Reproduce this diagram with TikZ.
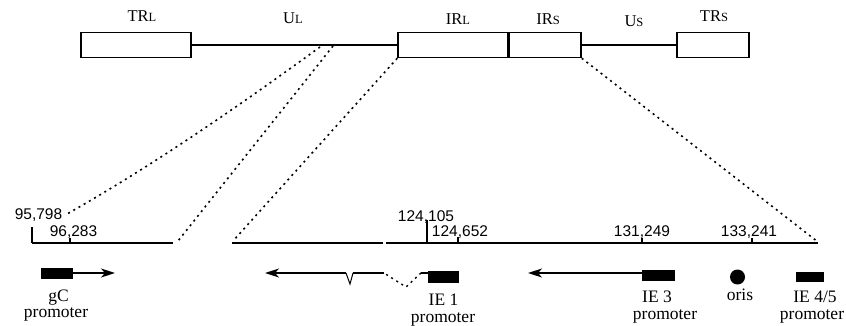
\documentclass[tikz,border=0pt]{standalone}
\usepackage{fontspec}
\setmainfont{Liberation Serif}
\newfontfamily\numfont{Liberation Sans}
\usetikzlibrary{arrows.meta}
\tikzset{
  segbox/.style={draw, line width=1.5pt, inner sep=0pt, minimum height=25pt},
  prom/.style={fill=black, draw=none, inner sep=0pt},
  toplab/.style={anchor=base, inner sep=0pt, font=\fontsize{16.5}{18}\selectfont},
  botlab/.style={anchor=base, inner sep=0pt, font=\fontsize{17.5}{20}\selectfont},
  numlab/.style={anchor=base, inner sep=0pt, font=\numfont\fontsize{15.5}{18}\selectfont},
  zoomline/.style={line width=1.6pt, dash pattern=on 2pt off 4pt},
  scaleline/.style={line width=1.5pt},
  tickmark/.style={line width=1.2pt},
  genearrow/.style={line width=1.5pt, -{Stealth[length=14pt,width=9pt,inset=4pt]}},
}
\newcommand{\sml}[1]{{\fontsize{12.5}{14}\selectfont #1}}
\begin{document}
\begin{tikzpicture}[x=1pt,y=-1pt]
\useasboundingbox (0,0) rectangle (846,326);
% genome map
\node[segbox, minimum width=110pt] (trl) at (136,45) {};
\node[segbox, minimum width=110pt] (irl) at (453,45) {};
\node[segbox, minimum width=73pt] (irs) at (544.5,45) {};
\node[segbox, minimum width=72pt] (trs) at (713,45) {};
\draw[line width=1.5pt] (trl.east) -- (irl.west);
\draw[line width=1.5pt] (irs.east) -- (trs.west);
\draw[line width=3pt] (irl.north east) -- (irl.south east);
% labels
\node[toplab] (ltrl) at (142,22) {TR\sml{L}};
\node[toplab] (lul) at (293,24) {U\sml{L}};
\node[toplab] (lirl) at (458,25) {IR\sml{L}};
\node[toplab] (lirs) at (548,25) {IR\sml{S}};
\node[toplab] (lus) at (634,27) {U\sml{S}};
\node[toplab] (ltrs) at (714,22) {TR\sml{S}};
% zoom coordinates
\coordinate (z1a) at (320,47);
\coordinate (z1b) at (67,214);
\coordinate (z2a) at (333,46);
\coordinate (z2b) at (178,241);
\coordinate (z3b) at (233,241);
\coordinate (z4b) at (818,242);
\draw[zoomline] (z1a) .. controls (228,114) and (145,170) .. (z1b);
\draw[zoomline] (z2a) -- (z2b);
\draw[zoomline] (irl.south west) -- (z3b);
\draw[zoomline] (irs.south east) -- (z4b);
% scale lines
\coordinate (s1a) at (32,243);
\coordinate (s1b) at (173,243);
\coordinate (s2a) at (232,243);
\coordinate (s2b) at (383,243);
\coordinate (s3a) at (386,243);
\coordinate (s3b) at (818,243);
\draw[scaleline] (s1a) -- (s1b);
\draw[scaleline] (s2a) -- (s2b);
\draw[scaleline] (s3a) -- (s3b);
% ticks
\draw[tickmark] (32,227) -- (32,243);
\draw[tickmark] (70,238) -- (70,243);
\draw[line width=1.6pt] (427,220) -- (427,243);
\draw[tickmark] (458,237) -- (458,243);
\draw[tickmark] (642,238) -- (642,243);
\draw[tickmark] (752,238) -- (752,243);
% numbers
\node[numlab] (n1) at (38.5,219) {95,798};
\node[numlab] (n2) at (73.5,236) {96,283};
\node[numlab] (n3) at (426,221) {124,105};
\node[numlab] (n4) at (460,236) {124,652};
\node[numlab] (n5) at (642,236) {131,249};
\node[numlab] (n6) at (749,236) {133,241};
% gC promoter
\node[prom, minimum width=32pt, minimum height=11pt] (gc) at (57,273.5) {};
\coordinate (gcend) at (115,273);
\draw[genearrow] (gc.east |- gcend) -- (gcend);
\node[botlab] (gct) at (58.5,301) {gC};
\node[botlab] (gcp) at (56,317) {promoter};
% IE1 promoter
\node[prom, minimum width=31pt, minimum height=12pt] (ie1) at (443.5,277) {};
\coordinate (i1) at (428,273);
\coordinate (i2) at (421,273);
\coordinate (i3) at (406,287);
\coordinate (i4) at (384,273);
\coordinate (i5) at (353,273);
\coordinate (i6) at (350,284);
\coordinate (i7) at (346,273);
\coordinate (i8) at (265,273);
\draw[line width=1.5pt] (i1) -- (i2);
\draw[zoomline, line width=1.4pt] (i2) -- (i3) -- (i4);
\draw[line width=1.5pt] (i4) -- (i5);
\draw[line width=1pt] (i5) -- (i6) -- (i7);
\draw[genearrow] (i7) -- (i8);
\node[botlab] (ie1t) at (443.5,305) {IE 1};
\node[botlab] (ie1p) at (443,322) {promoter};
% IE3 promoter
\node[prom, minimum width=33pt, minimum height=11pt] (ie3) at (658.5,275.5) {};
\coordinate (ie3end) at (528,273);
\draw[genearrow] (ie3.west |- ie3end) -- (ie3end);
\node[botlab] (ie3t) at (657,302) {IE 3};
\node[botlab] (ie3p) at (665,319) {promoter};
% oris
\node[circle, fill=black, inner sep=0pt, minimum size=15pt] (oris) at (737.5,277) {};
\node[botlab] (orist) at (740,300) {oris};
% IE4/5 promoter
\node[prom, minimum width=28pt, minimum height=10pt] (ie45) at (810,277) {};
\node[botlab] (ie45t) at (815,302) {IE 4/5};
\node[botlab] (ie45p) at (812,319) {promoter};
\end{tikzpicture}
\end{document}
